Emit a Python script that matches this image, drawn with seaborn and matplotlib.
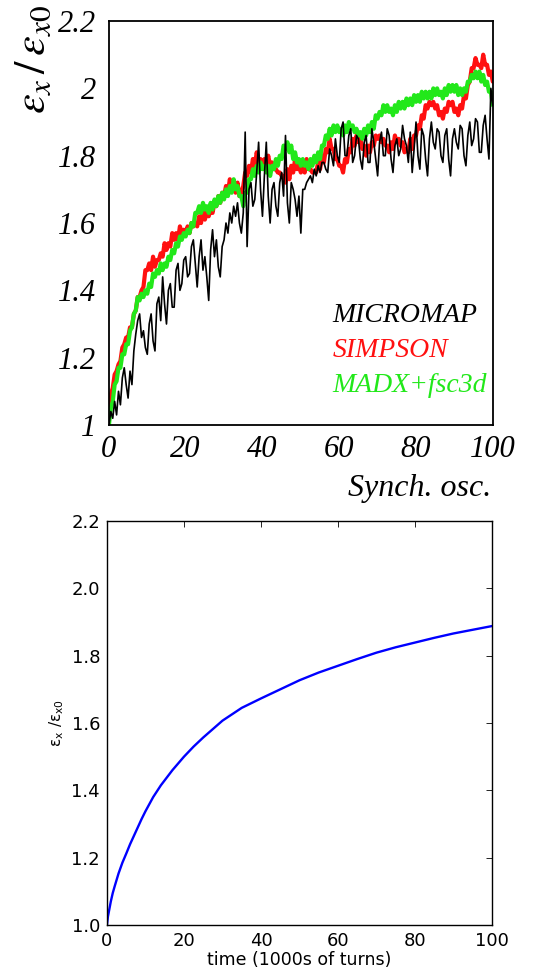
import numpy as np
import pandas as pd
import matplotlib.pyplot as plt
import seaborn as sns
from matplotlib.ticker import MultipleLocator, FormatStrFormatter

# ---------- data ----------
# top panel: emittance ratio, one value every 0.5 synch. osc. from 0 to 100
micromap = [
    1.00, 1.04, 1.02, 1.07, 1.03, 1.10, 1.06, 1.14, 1.17, 1.12,
    1.08, 1.16, 1.12, 1.22, 1.27, 1.31, 1.33, 1.26, 1.28, 1.23,
    1.21, 1.30, 1.33, 1.25, 1.22, 1.36, 1.38, 1.31, 1.44, 1.36,
    1.30, 1.40, 1.42, 1.35, 1.35, 1.46, 1.48, 1.40, 1.42, 1.49,
    1.50, 1.44, 1.45, 1.53, 1.55, 1.48, 1.41, 1.50, 1.55, 1.46,
    1.50, 1.44, 1.37, 1.52, 1.58, 1.50, 1.55, 1.47, 1.44, 1.53,
    1.55, 1.60, 1.57, 1.63, 1.60, 1.65, 1.62, 1.66, 1.60, 1.57,
    1.63, 1.87, 1.53, 1.70, 1.72, 1.65, 1.67, 1.75, 1.84, 1.70,
    1.62, 1.74, 1.84, 1.68, 1.60, 1.70, 1.72, 1.65, 1.62, 1.72,
    1.75, 1.68, 1.86, 1.66, 1.60, 1.72, 1.70, 1.67, 1.62, 1.68,
    1.57, 1.70, 1.70, 1.72, 1.73, 1.74, 1.72, 1.76, 1.74, 1.77,
    1.75, 1.78, 1.78, 1.76, 1.75, 1.82, 1.80, 1.77, 1.85, 1.80,
    1.78, 1.88, 1.90, 1.80, 1.80, 1.86, 1.88, 1.78, 1.80, 1.86,
    1.85, 1.79, 1.76, 1.84, 1.86, 1.78, 1.78, 1.88, 1.84, 1.79,
    1.74, 1.84, 1.87, 1.80, 1.80, 1.88, 1.86, 1.79, 1.75, 1.83,
    1.85, 1.80, 1.82, 1.89, 1.85, 1.83, 1.78, 1.87, 1.75, 1.82,
    1.90, 1.80, 1.76, 1.88, 1.86, 1.79, 1.74, 1.85, 1.90, 1.84,
    1.82, 1.88, 1.87, 1.80, 1.78, 1.86, 1.88, 1.79, 1.74, 1.85,
    1.88, 1.84, 1.82, 1.89, 1.88, 1.80, 1.77, 1.86, 1.90, 1.83,
    1.85, 1.91, 1.90, 1.81, 1.81, 1.89, 1.92, 1.85, 1.79, 2.00,
    1.95,
]

simpson = [
    1.02, 1.09, 1.11, 1.15, 1.16, 1.18, 1.19, 1.23, 1.24, 1.26,
    1.26, 1.29, 1.29, 1.33, 1.34, 1.38, 1.38, 1.40, 1.41, 1.46,
    1.46, 1.48, 1.46, 1.50, 1.47, 1.49, 1.49, 1.51, 1.50, 1.54,
    1.52, 1.54, 1.53, 1.57, 1.55, 1.57, 1.55, 1.59, 1.57, 1.58,
    1.57, 1.59, 1.57, 1.60, 1.59, 1.60, 1.59, 1.62, 1.60, 1.64,
    1.61, 1.63, 1.62, 1.64, 1.63, 1.66, 1.65, 1.68, 1.66, 1.69,
    1.68, 1.71, 1.69, 1.73, 1.70, 1.71, 1.69, 1.72, 1.68, 1.69,
    1.71, 1.75, 1.74, 1.77, 1.75, 1.79, 1.77, 1.81, 1.78, 1.79,
    1.77, 1.79, 1.77, 1.80, 1.77, 1.78, 1.76, 1.76, 1.75, 1.75,
    1.74, 1.74, 1.72, 1.76, 1.73, 1.77, 1.75, 1.79, 1.76, 1.77,
    1.75, 1.78, 1.75, 1.79, 1.76, 1.76, 1.75, 1.75, 1.75, 1.78,
    1.76, 1.80, 1.78, 1.82, 1.81, 1.85, 1.82, 1.82, 1.79, 1.79,
    1.77, 1.77, 1.75, 1.79, 1.78, 1.82, 1.81, 1.85, 1.83, 1.86,
    1.84, 1.85, 1.82, 1.83, 1.80, 1.83, 1.81, 1.84, 1.83, 1.86,
    1.85, 1.86, 1.84, 1.85, 1.83, 1.83, 1.81, 1.84, 1.82, 1.86,
    1.84, 1.85, 1.83, 1.84, 1.81, 1.82, 1.81, 1.85, 1.82, 1.86,
    1.86, 1.89, 1.88, 1.92, 1.91, 1.95, 1.94, 1.96, 1.95, 1.96,
    1.94, 1.95, 1.92, 1.93, 1.91, 1.94, 1.93, 1.96, 1.95, 1.96,
    1.93, 1.94, 1.92, 1.95, 1.94, 1.98, 1.97, 2.01, 2.02, 2.06,
    2.06, 2.09, 2.07, 2.07, 2.06, 2.10, 2.07, 2.07, 2.04, 2.05,
    2.02,
]

madx = [
    1.00, 1.05, 1.07, 1.12, 1.13, 1.17, 1.17, 1.21, 1.21, 1.24,
    1.24, 1.28, 1.29, 1.33, 1.34, 1.38, 1.37, 1.39, 1.38, 1.40,
    1.39, 1.42, 1.41, 1.45, 1.44, 1.46, 1.45, 1.48, 1.46, 1.48,
    1.47, 1.50, 1.49, 1.52, 1.51, 1.54, 1.53, 1.56, 1.55, 1.57,
    1.56, 1.58, 1.57, 1.60, 1.59, 1.63, 1.63, 1.65, 1.63, 1.66,
    1.64, 1.65, 1.63, 1.66, 1.64, 1.67, 1.65, 1.68, 1.66, 1.69,
    1.67, 1.70, 1.68, 1.71, 1.69, 1.73, 1.70, 1.71, 1.68, 1.68,
    1.65, 1.69, 1.69, 1.73, 1.73, 1.76, 1.74, 1.77, 1.75, 1.78,
    1.76, 1.77, 1.75, 1.77, 1.74, 1.77, 1.76, 1.79, 1.77, 1.80,
    1.79, 1.83, 1.82, 1.84, 1.81, 1.83, 1.79, 1.81, 1.78, 1.79,
    1.77, 1.79, 1.77, 1.78, 1.76, 1.79, 1.77, 1.80, 1.78, 1.81,
    1.79, 1.83, 1.83, 1.86, 1.85, 1.88, 1.86, 1.89, 1.87, 1.89,
    1.87, 1.88, 1.86, 1.89, 1.87, 1.90, 1.88, 1.89, 1.87, 1.88,
    1.86, 1.87, 1.85, 1.88, 1.86, 1.89, 1.87, 1.90, 1.88, 1.92,
    1.91, 1.93, 1.92, 1.95, 1.93, 1.95, 1.93, 1.94, 1.92, 1.95,
    1.93, 1.96, 1.94, 1.96, 1.94, 1.97, 1.95, 1.97, 1.95, 1.98,
    1.96, 1.98, 1.96, 1.99, 1.97, 1.99, 1.97, 1.99, 1.97, 2.00,
    1.98, 2.00, 1.98, 1.99, 1.97, 2.00, 1.98, 2.01, 1.99, 2.01,
    1.99, 2.01, 1.98, 2.00, 1.98, 2.00, 1.99, 2.02, 2.02, 2.04,
    2.03, 2.05, 2.03, 2.05, 2.02, 2.04, 2.01, 2.02, 1.99, 1.99,
    1.95,
]

# bottom panel: smooth model curve
time_k = [0, 0.25, 0.5, 1, 1.5, 2, 3, 4, 5, 6, 7, 8, 9, 10, 12, 14, 17,
          20, 22.5, 25, 30, 35, 40, 45, 50, 55, 60, 65, 70, 75, 80, 85,
          90, 95, 100]
model = [1.00, 1.025, 1.04, 1.07, 1.095, 1.115, 1.153, 1.185, 1.212, 1.24,
         1.265, 1.29, 1.315, 1.338, 1.38, 1.415, 1.46, 1.50, 1.53, 1.557,
         1.607, 1.645, 1.673, 1.70, 1.727, 1.75, 1.77, 1.79, 1.809, 1.825,
         1.839, 1.853, 1.866, 1.877, 1.888]

top_xticks = [0, 20, 40, 60, 80, 100]
top_yticks = [1.0, 1.2, 1.4, 1.6, 1.8, 2.0, 2.2]
top_ylabels = ["1", "1.2", "1.4", "1.6", "1.8", "2", "2.2"]
# -------------------------------------------------

sns.set_theme(style="white")
plt.rcParams["font.family"] = ["DejaVu Sans"]
plt.rcParams["text.color"] = "black"
plt.rcParams["axes.labelcolor"] = "black"

fig = plt.figure(figsize=(5.5, 9.69), dpi=100)
ax = fig.add_axes([0.198, 0.5614, 0.698, 0.4169])
ax2 = fig.add_axes([0.1945, 0.0454, 0.70, 0.4169])

serif = "Liberation Serif"
osc = np.linspace(0, 100, len(micromap))
df = pd.DataFrame({"osc": osc, "MICROMAP": micromap,
                   "SIMPSON": simpson, "MADX+fsc3d": madx})

# top panel
sns.lineplot(data=df, x="osc", y="SIMPSON", ax=ax, color="#ff1010", lw=3.0, label="SIMPSON")
sns.lineplot(data=df, x="osc", y="MADX+fsc3d", ax=ax, color="#22e81a", lw=3.0, label="MADX+fsc3d")
sns.lineplot(data=df, x="osc", y="MICROMAP", ax=ax, color="black", lw=1.2, label="MICROMAP")

ax.set_xlim(0, 100)
ax.set_ylim(1.0, 2.2)
ax.set_xticks(top_xticks, [str(t) for t in top_xticks],
              fontfamily=serif, fontstyle="italic", fontsize=22)
ax.set_yticks(top_yticks, top_ylabels,
              fontfamily=serif, fontstyle="italic", fontsize=22)
ax.xaxis.set_minor_locator(MultipleLocator(5))
ax.yaxis.set_minor_locator(MultipleLocator(0.05))
ax.tick_params(which="both", direction="in", top=False, right=False,
               color="black", width=1.2, labelcolor="black")
ax.tick_params(which="major", length=9.5)
ax.tick_params(which="minor", length=5)
ax.tick_params(axis="x", which="major", pad=7)
ax.tick_params(axis="y", which="major", pad=9)
for s in ax.spines.values():
    s.set_color("black")
    s.set_linewidth(1.3)

ax.set_xlabel("Synch. osc.", fontfamily=serif, fontstyle="italic", fontsize=23,
              ha="right", va="center")
ax.xaxis.set_label_coords(0.995, -0.158)
ax.set_ylabel(r"$\varepsilon_{x}\,/\,\varepsilon_{x0}$", fontsize=32,
              math_fontfamily="stix", ha="center", va="center")
ax.yaxis.set_label_coords(-0.2, 0.905)

handles, labels = ax.get_legend_handles_labels()
order = [labels.index(n) for n in ["MICROMAP", "SIMPSON", "MADX+fsc3d"]]
leg = ax.legend([handles[i] for i in order], [labels[i] for i in order],
                loc="upper left", bbox_to_anchor=(0.583, 0.303), frameon=False,
                handlelength=0, handletextpad=0, borderpad=0, borderaxespad=0,
                labelspacing=0.35, labelcolor="linecolor",
                prop={"family": serif, "style": "italic", "size": 20})
for h in leg.legend_handles:
    h.set_visible(False)

# bottom panel
sns.lineplot(x=time_k, y=model, ax=ax2, color="#0000ff", lw=1.7)
ax2.set_xlim(0, 100)
ax2.set_ylim(1.0, 2.2)
ax2.set_xticks([0, 20, 40, 60, 80, 100])
ax2.set_yticks([1.0, 1.2, 1.4, 1.6, 1.8, 2.0, 2.2])
ax2.yaxis.set_major_formatter(FormatStrFormatter("%.1f"))
ax2.tick_params(direction="in", top=True, right=True, length=4.5, width=0.6,
                color="black", labelcolor="black", labelsize=13, pad=5)
for s in ax2.spines.values():
    s.set_color("black")
    s.set_linewidth(1.0)
ax2.set_xlabel("time (1000s of turns)", fontsize=12.5, labelpad=1)
ax2.set_ylabel(r"$\mathrm{\varepsilon_x\ /\varepsilon_{x0}}$", fontsize=11,
               math_fontfamily="dejavusans", labelpad=4)

fig.savefig("out.png", dpi=100)
